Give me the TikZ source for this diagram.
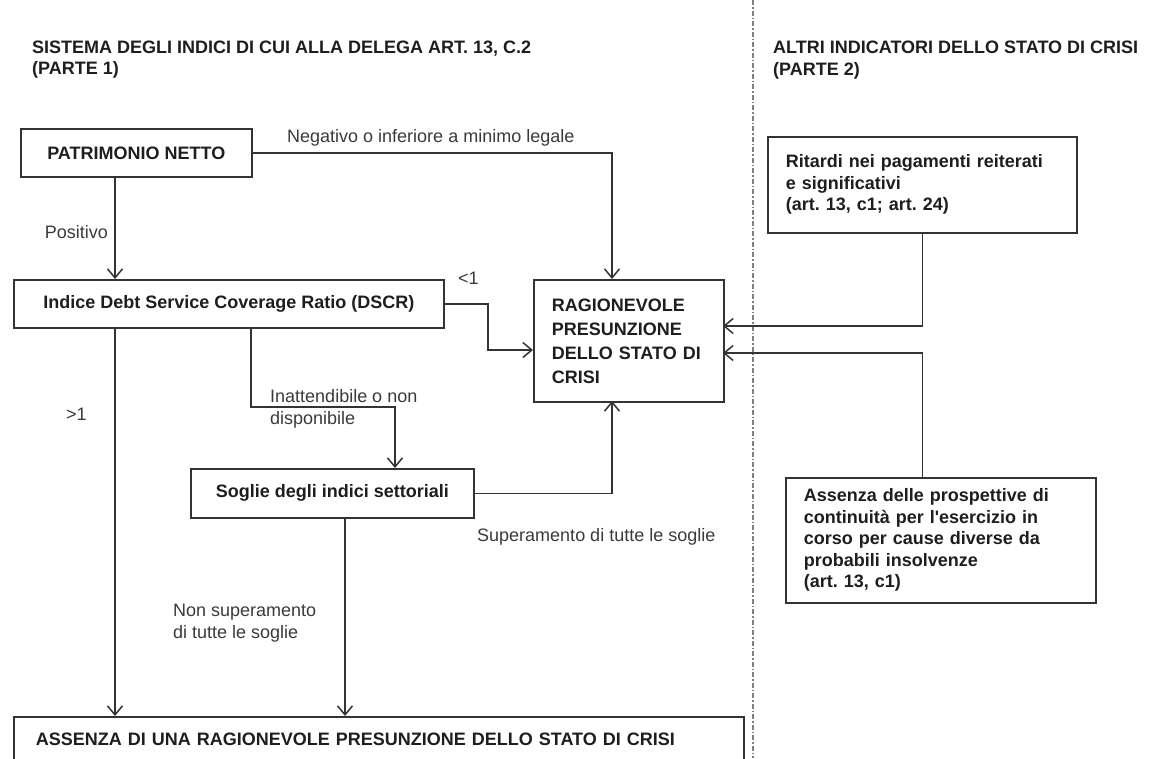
\documentclass[tikz,border=0pt]{standalone}
\usepackage{fontspec}
\setmainfont{Liberation Sans}
\usetikzlibrary{arrows.meta}

\definecolor{boxline}{HTML}{333333}
\definecolor{inkgray}{HTML}{1E1E1E}
\definecolor{labelgray}{HTML}{3A3A3A}

\newcommand{\boxfont}{\fontsize{18}{21.5}\selectfont\bfseries}
\newcommand{\ragfont}{\fontsize{18}{24}\selectfont\bfseries}
\newcommand{\labelfont}{\fontsize{18}{22}\selectfont}

\frenchspacing

\begin{document}
\begin{tikzpicture}[x=1pt,y=-1pt]
\useasboundingbox (0,0) rectangle (1158,758);
\clip (0,0) rectangle (1158,758);

% titles of the two parts
\begin{scope}[every node/.style={anchor=west,align=left,inner sep=0pt,text=inkgray,font=\boxfont}]
    \node (H1) at (32,59.5) {SISTEMA DEGLI INDICI DI CUI ALLA DELEGA ART. 13, C.2\\(PARTE 1)};
    \node (H2) at (773,60) {ALTRI INDICATORI DELLO STATO DI CRISI\\(PARTE 2)};
\end{scope}

\draw [gray, line width=1.2pt, dash pattern=on 5pt off 2pt on 1.5pt off 2pt] (753,0) -- (753,758);

% boxes
\begin{scope}[every node/.style={draw=boxline,line width=1.6pt,anchor=north west,text=inkgray,font=\boxfont,inner sep=0pt}]
    \node [minimum width=231pt,minimum height=48pt] (PN) at (20,128) {PATRIMONIO NETTO};
    \node [minimum width=430pt,minimum height=48pt] (DSCR) at (13,279) {Indice Debt Service Coverage Ratio (DSCR)};
    \node [minimum width=283pt,minimum height=49pt] (SOG) at (190,468) {Soglie degli indici settoriali};
    \node [minimum height=122pt,inner xsep=18pt,text width=154pt,align=left,font=\ragfont] (RAG) at (533,279)
        {RAGIONEVOLE\\PRESUNZIONE\\DELLO STATO DI\\CRISI};
    \node [minimum height=44pt,inner xsep=22pt,text width=686pt,align=left] (ASS) at (13,716)
        {ASSENZA DI UNA RAGIONEVOLE PRESUNZIONE DELLO STATO DI CRISI};
    \node [minimum height=96pt,inner xsep=18pt,text width=273pt,align=left] (RIT) at (767,136)
        {Ritardi nei pagamenti reiterati\\e significativi\\(art. 13, c1; art. 24)\\[-6pt]};
    \node [minimum height=125pt,inner xsep=18pt,text width=274pt,align=left] (CONT) at (785,477)
        {Assenza delle prospettive di\\continuità per l\textquotesingle esercizio in\\corso per cause diverse da\\probabili insolvenze\\(art. 13, c1)};
\end{scope}

% labels
\begin{scope}[every node/.style={anchor=west,align=left,inner sep=0pt,text=labelgray,font=\labelfont}]
    \node (lNeg) at (287,138) {Negativo o inferiore a minimo legale};
    \node [anchor=east] (lPos) at (108,232) {Positivo};
    \node (lLt) at (458,278) {<1};
    \node (lGt) at (66,414) {>1};
    \node (lInat) at (270,409) {Inattendibile o non\\disponibile};
    \node (lSup) at (477,537) {Superamento di tutte le soglie};
    \node (lNon) at (173,623) {Non superamento\\di tutte le soglie};
\end{scope}

% helper points
\coordinate (xL) at (115,0);
\coordinate (xM) at (251,0);
\coordinate (xS) at (395,0);
\coordinate (xN) at (345,0);
\coordinate (xT) at (488,0);
\coordinate (yI) at (0,407);
\coordinate (ragT) at (612,279);
\coordinate (ragB) at (612,401);
\coordinate (ragL) at (533,350);
\coordinate (ragR1) at (723,326);
\coordinate (ragR2) at (723,353);

% connectors
\begin{scope}[>={Straight Barb[length=9pt,width=15pt]},
              every path/.style={draw=boxline,line width=1.5pt}]
    \draw [->] (PN.east) -| (ragT);
    \draw [->] (PN.south -| xL) -- (DSCR.north -| xL);
    \draw [->] (DSCR.east) -| (xT |- ragL) -- (ragL);
    \draw [->] (DSCR.south -| xM) |- (yI -| xS) -- (SOG.north -| xS);
    \draw [->] (DSCR.south -| xL) -- (ASS.north -| xL);
    \draw [->] (SOG.east) -| (ragB);
    \draw [->] (SOG.south -| xN) -- (ASS.north -| xN);
    \draw [->] (RIT.south) |- (ragR1);
    \draw [->] (CONT.north -| RIT.south) |- (ragR2);
\end{scope}
\end{tikzpicture}
\end{document}
